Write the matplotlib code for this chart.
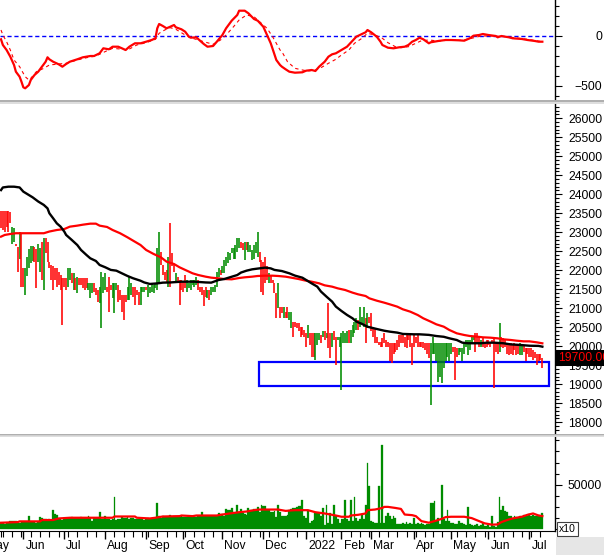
import numpy as np
import pandas as pd
import matplotlib
matplotlib.use("Agg")
import matplotlib.pyplot as plt
import matplotlib.transforms as mtrans
from matplotlib.ticker import MultipleLocator, FixedLocator, NullFormatter
from matplotlib.patches import Rectangle
from matplotlib.lines import Line2D

plt.rcParams['font.family'] = ['Liberation Sans', 'DejaVu Sans']

# ---------------- data ----------------
holidays = ['2021-09-02', '2021-09-03', '2022-01-03', '2022-01-31', '2022-02-01',
            '2022-02-02', '2022-02-03', '2022-02-04', '2022-04-11', '2022-05-02', '2022-05-03']
dates = pd.bdate_range('2021-05-14', '2022-07-12')
dates = dates[~dates.isin(pd.to_datetime(holidays))]

high = [
    23560, 23560, 23560, 23560, 23560, 23540, 23150, 23100, 22700, 22620,
    23000, 22970, 22050, 22050, 22350, 22550, 22650, 22650, 22600, 22550,
    22700, 22580, 22750, 22840, 22840, 22750, 22230, 22140, 22100, 22050,
    22050, 21960, 21880, 21790, 21790, 21790, 22050, 22050, 21920, 21920,
    21790, 21830, 21790, 21790, 21790, 21790, 21790, 21660, 21660, 21660,
    21660, 21530, 21480, 21570, 21960, 21830, 21920, 21570, 21830, 21610,
    21660, 21660, 21660, 21610, 21480, 21350, 21350, 21350, 21570, 21830,
    21660, 21570, 21570, 21480, 21440, 21570, 21570, 21570, 21570, 21610,
    21570, 21660, 21610, 21660, 22580, 23020, 22490, 22140, 21960, 22000,
    22360, 23240, 22450, 22140, 21920, 21830, 21740, 21740, 21700,
    21880, 21740, 21660, 21740, 21740, 21740, 21830, 21740, 21570, 21570,
    21480, 21570, 21480, 21480, 21570, 21570, 21610, 21960, 22050, 22010,
    22100, 22270, 22360, 22490, 22450, 22580, 22580, 22670, 22840, 22840,
    22750, 22710, 22750, 22750, 22750, 22670, 22530, 22670, 22750, 23020,
    22490, 22270, 22230, 22360, 22100, 21920, 21880, 21740, 21660, 21390,
    21660, 21040, 21040, 21040, 20910, 21040, 20910, 20910, 20650, 20650,
    20600, 20600, 20520, 20520, 20430, 20340, 20560, 20340, 20340, 20340,
    20340, 20340, 20340, 20300, 20390, 20390, 20340, 21130, 20340, 20340,
    20390, 20250, 20250, 20250, 20340, 20390, 20340, 20390, 20430, 20430,
    20560, 20650, 20740, 20690, 21040, 20780, 21040, 20740, 20870, 20780,
    20870, 20520, 20470, 20250, 20120, 20120, 20210, 20340, 20170, 20120,
    20080, 20080, 20080, 20080, 20170, 20300, 20300, 20300, 20250, 20300,
    20340, 20300, 20080, 20300, 20250, 20300, 20120, 20120, 20120, 20080,
    20080, 20080, 20080, 20250, 20080, 20080, 20080, 20080, 20080, 20080,
    20080, 20080, 20080, 20080, 19990, 19990, 19950, 19950, 19950, 19950,
    20080, 20170, 20170, 20170, 20250, 20250, 20340, 20340, 20250, 20170,
    20250, 20080, 20170, 20170, 20080, 20170, 20250, 20080, 20080, 20600,
    20250, 20210, 20170, 20080, 20080, 20080, 20030, 20080, 20030, 20030,
    20080, 20030, 20030, 19950, 19950, 19950, 19950, 19900, 19860, 19810,
    19810, 19810, 19680,
]
low = [
    23100, 23050, 23000, 23150, 23000, 23250, 22700, 22750, 22650, 21950,
    22300, 21550, 21550, 21350, 21850, 22050, 22200, 22250, 22230, 21530,
    22230, 21960, 21750, 21480, 22450, 22230, 22050, 21740, 21480, 21740,
    21570, 21610, 21480, 20560, 21570, 21480, 21570, 21740, 21660, 21480,
    21480, 21390, 21610, 21610, 21530, 21480, 21530, 21480, 21260, 21390,
    21440, 21350, 21170, 21130, 20470, 21390, 21480, 21440, 20910, 21480,
    21260, 20870, 21480, 21170, 21220, 20910, 20690, 21170, 21220, 21220,
    21350, 21310, 21090, 21350, 21090, 21090, 21440, 21440, 21480, 21310,
    21390, 21440, 21390, 21530, 21480, 21660, 22140, 21880, 21740, 21660,
    21570, 21570, 22100, 21960, 21700, 21700, 21090, 21480, 21440,
    21530, 21440, 21530, 21480, 21610, 21570, 21610, 21480, 21440, 21350,
    21060, 21310, 21260, 21220, 21350, 21440, 21440, 21570, 21830, 21880,
    21920, 21920, 22100, 22180, 22270, 22450, 22310, 22310, 22490, 22580,
    22580, 22530, 22270, 22530, 22490, 22490, 22270, 22310, 22450, 22360,
    22230, 21440, 21350, 21660, 21740, 21660, 21660, 21660, 21390, 20740,
    21000, 20740, 20870, 20740, 20740, 20740, 20690, 20470, 20250, 20520,
    20470, 20390, 20250, 20300, 20250, 19990, 20210, 20030, 19730, 19730,
    19640, 20030, 20170, 20080, 20250, 20170, 20210, 19950, 19680, 19990,
    20170, 19510, 20170, 19990, 18850, 20080, 20080, 20080, 20080, 20080,
    20250, 20340, 20430, 20430, 20520, 20600, 20520, 20080, 20470, 20600,
    20390, 20250, 20080, 20080, 20030, 19990, 19990, 20080, 19990, 19990,
    19600, 19550, 19810, 19860, 19900, 19990, 20080, 20080, 19990, 19950,
    20170, 19990, 19510, 19990, 20080, 19990, 19990, 19990, 19950, 19900,
    19810, 19680, 18460, 19810, 19810, 19600, 19070, 19200, 19030, 19420,
    19600, 19730, 19600, 19810, 19860, 19110, 19730, 19770, 19860, 19600,
    19810, 19990, 19770, 19900, 20080, 20170, 19860, 20080, 19990, 19990,
    19990, 19950, 19990, 20030, 19990, 20080, 18890, 19860, 19810, 19860,
    19990, 19950, 19990, 19810, 19770, 19810, 19770, 19900, 19770, 19810,
    19770, 19770, 19860, 19600, 19810, 19730, 19730, 19640, 19680, 19510,
    19600, 19640, 19420,
]
bar_dir = ("rrrrrrggrr" "grrgggggrr" "ggrgrrrrrr" "rrrrrrggrg" "rgrrrrrggg"
           "rrrggggrrr" "gggrrrrrgg" "grrrrgggrg" "ggggggrrrr" "grrrgrrrr"
           "rggggggrrr" "rrgrgggggr" "gggggggggg" "rrgrgggggg" "rrrrrgrrrr"
           "grrgrrggrr" "rrrrrrgrrr" "gggrgrgrrg" "rrggggggrg" "gggrgggrgr"
           "rrrrrrrrrr" "rrrrrrrrrr" "rrrrrrrrrr" "rrgggggggg" "ggggrrrggg"
           "ggggggrrrg" "rrrrrrrrrg" "rrrrrrrrrr" "ggrrrrrrrr" "rrr")

volume = [
    6600, 6800, 6500, 6700, 7000, 9200, 9300, 9000, 9100, 7400,
    7200, 8500, 8400, 8100, 8200, 14800, 8300, 8000, 8500, 7600,
    8200, 13700, 12200, 11500, 12000, 11000, 11200, 11000, 21500, 16700,
    16600, 11800, 11500, 11000, 11700, 12000, 13000, 12500, 13600, 12800,
    12200, 13000, 12600, 13300, 12400, 12900, 13200, 14800, 12700, 9000,
    12600, 12300, 13000, 19200, 12000, 11500, 15500, 11100, 11300, 11000,
    11100, 35900, 11000, 11200, 11100, 13500, 12500, 13000, 13700, 12000,
    12800, 13200, 11500, 12000, 11200, 11800, 12500, 11000, 11400, 12200,
    11800, 11300, 12000, 13000, 29200, 14800, 12500, 15500, 13700, 14000,
    13500, 16600, 14200, 14800, 15200, 14500, 14000, 15000, 14300, 13700,
    14000, 14500, 13500, 14800, 14200, 13700, 14500, 14800, 19200, 15000,
    14800, 14500, 15200, 14600, 14800, 15000, 14700, 17800, 14500, 17400,
    14800, 22500, 21500, 21400, 23700, 19200, 18500, 27000, 19200, 22900,
    18000, 16700, 16300, 23700, 21500, 21400, 22500, 23300, 24800, 20000,
    27000, 25900, 26000, 22200, 22000, 20000, 19000, 20400, 14000, 27700,
    19200, 14800, 14800, 14500, 16600, 22200, 23000, 24000, 23500, 25100,
    25900, 26600, 33300, 14800, 12200, 20300, 7000, 9200, 10300, 18500,
    17800, 17800, 14800, 24000, 5000, 27700, 6600, 18500, 5500, 27700,
    14800, 11100, 6600, 11100, 11100, 33300, 11800, 9200, 33300, 9200,
    35900, 12200, 9200, 11100, 16600, 11800, 27700, 74700, 48800, 9200,
    8100, 7400, 6600, 48800, 6600, 94700, 6600, 14800, 18500, 14800,
    11100, 14800, 12900, 6300, 6300, 6300, 6600, 5500, 8100, 6300,
    7400, 5500, 12900, 5500, 6600, 5500, 6600, 5500, 4400, 5500,
    5500, 29600, 29600, 31400, 9200, 12900, 5500, 49900, 11100, 9200,
    22200, 9200, 7400, 6600, 5500, 5500, 9200, 6600, 6600, 5500,
    4400, 25200, 5500, 4400, 3700, 4400, 5500, 3700, 4400, 6600,
    3700, 3700, 4400, 3000, 14800, 3700, 3000, 8100, 35900, 22200,
    26600, 20300, 19200, 15200, 14800, 13000, 14800, 14100, 13000, 14800,
    14100, 16600, 15500, 14800, 17000, 15500, 16000, 14800, 15500, 16000,
    14800, 17800,
]

# moving averages (day index, value)
ma_black_day = [0, 1, 4, 7, 10, 12, 14, 17, 20, 23, 25, 26, 28, 30, 32, 34, 35, 38, 41, 43, 46, 48, 51,
                53, 56, 59, 62, 65, 68, 71, 75, 77, 80, 84, 87, 91, 97, 104, 110, 113, 117, 120, 124, 127,
                129, 132, 135, 138, 142, 145, 147, 151, 155, 158, 162, 164, 167, 170, 172, 175, 178, 180,
                183, 186, 189, 191, 194, 197, 202, 206, 209, 213, 216, 222, 225, 230, 234, 238, 241, 245,
                248, 251, 258, 261, 265, 270, 274, 279, 284, 289, 291]
ma_black_val = [24110, 24180, 24200, 24200, 24180, 24070, 24010, 23920, 23810, 23720, 23630, 23500, 23370,
                23235, 23150, 23020, 22930, 22800, 22665, 22535, 22400, 22315, 22245, 22140, 22080, 22010,
                21990, 21920, 21850, 21790, 21725, 21680, 21640, 21655, 21675, 21680, 21700, 21700, 21680,
                21675, 21745, 21770, 21830, 21875, 21940, 21990, 22025, 22045, 22070, 22050, 22010, 21980,
                21920, 21860, 21805, 21745, 21655, 21570, 21440, 21305, 21175, 21045, 20930, 20825, 20735,
                20650, 20590, 20515, 20455, 20410, 20385, 20360, 20325, 20315, 20315, 20300, 20270, 20250,
                20210, 20165, 20095, 20080, 20080, 20095, 20095, 20080, 20050, 20035, 20015, 20010, 19990]
ma_red_day = [0, 2, 5, 8, 14, 19, 23, 26, 30, 34, 37, 41, 44, 48, 51, 53, 57, 60, 64, 68, 71, 75, 78, 82,
              86, 89, 93, 96, 99, 103, 106, 110, 113, 117, 120, 124, 128, 131, 135, 138, 142, 146, 149,
              153, 156, 160, 163, 167, 171, 174, 178, 181, 185, 189, 192, 196, 198, 202, 206, 209, 213,
              216, 220, 224, 227, 231, 234, 238, 241, 245, 249, 252, 256, 259, 263, 267, 270, 274, 277,
              281, 284, 288, 291]
ma_red_val = [22885, 22930, 22955, 22975, 22975, 22975, 22975, 23020, 23060, 23085, 23148, 23175, 23200,
              23227, 23227, 23175, 23140, 23060, 22975, 22867, 22780, 22665, 22535, 22430, 22340, 22227,
              22165, 22078, 22010, 21920, 21876, 21832, 21806, 21788, 21770, 21762, 21797, 21815, 21832,
              21850, 21858, 21858, 21850, 21832, 21806, 21770, 21736, 21700, 21657, 21604, 21569, 21525,
              21481, 21411, 21367, 21323, 21262, 21200, 21148, 21104, 21043, 20973, 20911, 20823, 20736,
              20648, 20578, 20516, 20429, 20341, 20297, 20271, 20253, 20236, 20227, 20209, 20183, 20166,
              20148, 20130, 20130, 20104, 20078]

macd_day = [0, 1, 3, 5, 7, 8, 10, 11, 12, 13, 15, 16, 18, 20, 22, 24, 25, 26, 28, 31, 33, 35, 37, 41, 44,
            48, 50, 53, 55, 58, 60, 63, 65, 67, 69, 72, 75, 78, 81, 83, 84, 85, 87, 89, 91, 93, 94, 97, 99,
            101, 102, 105, 107, 109, 111, 114, 116, 119, 121, 124, 127, 128, 131, 133, 136, 138, 141, 143,
            145, 148, 150, 151, 153, 155, 158, 162, 164, 167, 169, 171, 174, 176, 178, 180, 183, 186, 188,
            191, 194, 196, 197, 199, 202, 204, 205, 208, 211, 214, 217, 219, 221, 223, 225, 227, 230, 231,
            235, 239, 242, 246, 249, 252, 254, 257, 259, 262, 266, 267, 269, 273, 275, 280, 283, 287, 289, 291]
macd_val = [-33, -90, -140, -207, -290, -357, -407, -457, -513, -523, -490, -440, -390, -357, -307, -257,
            -213, -233, -257, -283, -307, -280, -257, -233, -213, -200, -200, -173, -123, -133, -107, -107,
            -123, -140, -107, -73, -73, -57, -40, -23, 77, 120, 100, 77, 93, 110, 87, 67, 43, -7, -17, -13,
            -47, -80, -107, -100, -57, 10, 77, 153, 210, 253, 253, 227, 170, 153, 93, 10, -73, -240, -290,
            -307, -333, -357, -367, -363, -347, -340, -350, -307, -257, -207, -183, -173, -140, -107, -67,
            -7, 20, 37, 60, 37, -7, -57, -90, -117, -123, -113, -107, -90, -57, -40, -17, -33, -73, -63,
            -50, -40, -40, -43, -47, -23, 3, 10, 20, 10, 0, -13, 0, -13, -23, -30, -40, -50, -57, -57]
signal_day = [0, 1, 3, 5, 7, 10, 13, 15, 16, 19, 23, 26, 31, 35, 41, 46, 51, 57, 60, 64, 68, 73, 78, 83,
              85, 88, 91, 94, 99, 103, 109, 114, 118, 121, 125, 128, 132, 136, 139, 143, 146, 150, 151,
              154, 158, 162, 165, 169, 172, 176, 180, 183, 187, 190, 194, 197, 201, 205, 208, 212, 215,
              219, 223, 226, 230, 235, 240, 248, 253, 258, 266, 273, 283, 291]
signal_val = [60, 10, -57, -140, -240, -307, -407, -440, -423, -357, -323, -290, -280, -273, -240, -217,
              -200, -147, -123, -130, -140, -90, -67, -33, 27, 60, 83, 67, 10, -23, -57, -83, -40, 10, 93,
              160, 210, 193, 143, 77, -7, -140, -157, -257, -323, -340, -350, -340, -317, -273, -233, -190,
              -140, -73, -23, 27, 10, -23, -67, -107, -117, -107, -73, -47, -40, -50, -43, -43, -23, 0, 0,
              -10, -33, -57]

vol_ma_day = [0, 9, 10, 21, 22, 28, 31, 37, 60, 61, 72, 73, 80, 83, 87, 96, 97, 103, 105, 116, 118, 123,
              128, 132, 136, 139, 149, 153, 158, 165, 169, 174, 180, 183, 187, 188, 192, 196, 197, 201,
              205, 206, 208, 212, 215, 217, 221, 223, 226, 230, 233, 237, 239, 242, 249, 253, 257, 260,
              264, 267, 269, 273, 276, 280, 283, 286, 289, 291]
vol_ma_val = [7400, 8100, 8900, 8900, 10400, 10400, 12200, 13000, 13000, 14400, 14400, 13000, 12200, 13000,
              14400, 14800, 15500, 14800, 15500, 15500, 16300, 17800, 19200, 20000, 21500, 22200, 22200,
              20700, 21500, 21500, 19200, 17800, 15500, 14100, 14100, 15500, 16300, 17800, 21500, 22200,
              24000, 25200, 25200, 24000, 22900, 16600, 15900, 14800, 9200, 7400, 9200, 11800, 13700,
              14100, 14100, 12600, 9200, 6700, 5200, 5500, 8100, 11100, 12600, 14100, 16300, 17800, 15500,
              14800]

zone_start_day, zone_end_day = 138.5, 294.5
zone_low, zone_high = 18960, 19580
last_price = 19700

# ---------------- figure ----------------
W, H = 604, 555
fig = plt.figure(figsize=(W / 100, H / 100), dpi=100)
fig.patch.set_facecolor('white')

def px_rect(x0, y0, x1, y1):
    return [x0 / W, 1 - y1 / H, (x1 - x0) / W, (y1 - y0) / H]

ax_m = fig.add_axes(px_rect(0, 0, 555, 99))
ax_p = fig.add_axes(px_rect(0, 104, 555, 433))
ax_v = fig.add_axes(px_rect(0, 437, 555, 531))

RED = '#ff0000'
GREEN = '#008c00'
FS = 8.7
XLIM = (-0.54, 297.8)
n = len(high)
idx = np.arange(n)

def style(ax):
    ax.set_xlim(*XLIM)
    for s in ['left', 'top', 'bottom']:
        ax.spines[s].set_visible(False)
    ax.spines['right'].set_linewidth(1.0)
    ax.yaxis.tick_right()
    ax.tick_params(axis='y', which='major', length=5, width=0.8, direction='out',
                   labelsize=FS, pad=29, colors='black')
    ax.tick_params(axis='y', which='minor', length=3, width=0.8, direction='out')
    ax.set_xticks([])
    ax.set_facecolor('white')

# --- MACD panel
style(ax_m)
ax_m.set_ylim(-630, 360)
ax_m.axhline(0, color='#0000ff', lw=1.0, ls=(0, (3, 2)))
ax_m.plot(signal_day, signal_val, color=RED, lw=0.8, ls=(0, (3, 3)))
ax_m.plot(macd_day, macd_val, color=RED, lw=1.6)
ax_m.yaxis.set_major_locator(FixedLocator([-500, 0]))
ax_m.yaxis.set_minor_locator(MultipleLocator(100))

# --- price panel
style(ax_p)
ax_p.set_ylim(17718, 26376)
cols = [RED if c == 'r' else GREEN for c in bar_dir]
ax_p.vlines(idx, low, high, colors=cols, linewidth=1.15)
ax_p.plot(ma_red_day, ma_red_val, color=RED, lw=1.6)
ax_p.plot(ma_black_day, ma_black_val, color='black', lw=1.7)
ax_p.add_patch(Rectangle((zone_start_day, zone_low), zone_end_day - zone_start_day,
                         zone_high - zone_low, fill=False, edgecolor='#0000ff', lw=1.6,
                         clip_on=False))
ax_p.yaxis.set_major_locator(MultipleLocator(500))
ax_p.yaxis.set_minor_locator(MultipleLocator(100))
ax_p.yaxis.set_major_formatter(matplotlib.ticker.FuncFormatter(lambda v, p: '%d' % v))

# --- volume panel
style(ax_v)
ax_v.set_ylim(-1900, 103700)
ax_v.bar(idx, volume, width=1.0, color=GREEN, edgecolor=GREEN, linewidth=0.2)
ax_v.plot(vol_ma_day, vol_ma_val, color=RED, lw=1.6)
ax_v.yaxis.set_major_locator(FixedLocator([50000]))
ax_v.yaxis.set_minor_locator(MultipleLocator(12500))
ax_v.spines['bottom'].set_visible(True)

# x axis: months and weeks
month_pos, month_lab = [], []
week_pos = []
for i, d in enumerate(dates):
    if i == 0 or d.month != dates[i - 1].month:
        month_pos.append(i)
        month_lab.append(str(d.year) if d.month == 1 else d.strftime('%b'))
    if i == 0 or d.weekday() < dates[i - 1].weekday():
        week_pos.append(i)
pre_days = len(pd.bdate_range('2021-05-01', '2021-05-13'))
month_pos[0] = -pre_days
month_lab[0] = 'May'
ax_v.set_xticks([p for p in month_pos if p >= 0])
ax_v.set_xticks(week_pos, minor=True)
ax_v.tick_params(axis='x', which='major', length=6, width=1.0, direction='out', labelbottom=False)
ax_v.tick_params(axis='x', which='minor', length=4, width=0.8, direction='out')
for p, lab in zip(month_pos, month_lab):
    ax_v.annotate(lab, xy=(p, 0), xycoords=('data', 'axes fraction'), xytext=(1.5, -6.5),
                  textcoords='offset points', ha='left', va='top', fontsize=FS, annotation_clip=False)

for ax in (ax_m, ax_p, ax_v):
    for t in ax.get_yticklabels():
        t.set_horizontalalignment('right')

# separators
for y, c in [(100.5, '#a0a0a0'), (102.5, '#d8d8d8'), (434.5, '#a0a0a0'), (436.0, '#d8d8d8')]:
    fig.add_artist(Line2D([0, 1], [1 - y / H, 1 - y / H], color=c, lw=1.2, transform=fig.transFigure))

# bottom right grey area and x10 box
fig.add_artist(Rectangle((556 / W, 0), 48 / W, 18 / H, transform=fig.transFigure,
                         facecolor='#e6e6e6', edgecolor='none'))
fig.text(559 / W, 1 - 529 / H, 'x10', fontsize=7.5, ha='left', va='center',
         bbox=dict(facecolor='white', edgecolor='#404040', pad=1.2, lw=0.8))

# last price label
tr = mtrans.blended_transform_factory(fig.transFigure, ax_p.transData)
fig.text(558 / W, last_price, '%.2f' % last_price, transform=tr, color=RED, fontsize=FS,
         ha='left', va='center', bbox=dict(facecolor='black', edgecolor='none', pad=1.5))

fig.savefig('out.png', dpi=100, facecolor='white')
